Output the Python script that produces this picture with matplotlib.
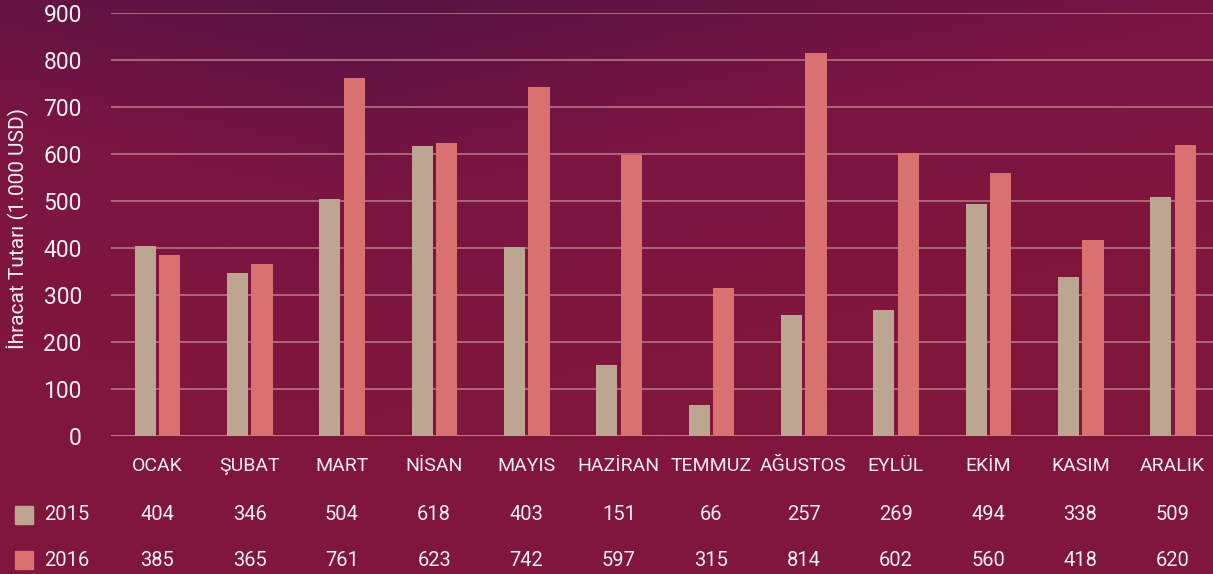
import numpy as np
import matplotlib
matplotlib.use("Agg")
import matplotlib.pyplot as plt
from matplotlib.colors import LinearSegmentedColormap

months = ["OCAK", "ŞUBAT", "MART", "NİSAN", "MAYIS", "HAZİRAN", "TEMMUZ",
          "AĞUSTOS", "EYLÜL", "EKİM", "KASIM", "ARALIK"]
v2015 = [404, 346, 504, 618, 403, 151, 66, 257, 269, 494, 338, 509]
v2016 = [385, 365, 761, 623, 742, 597, 315, 814, 602, 560, 418, 620]
series_names = ["2015", "2016"]
yticks = [0, 100, 200, 300, 400, 500, 600, 700, 800, 900]

c2015 = "#bca591"
c2016 = "#d87170"
txt = "#f4eef0"
plt.rcParams['font.family'] = ['Roboto', 'DejaVu Sans']

W, H = 1213, 574
fig = plt.figure(figsize=(W / 100, H / 100), dpi=100)

# background gradient
bg = fig.add_axes([0, 0, 1, 1])
bg.set_axis_off()
yy, xx = np.mgrid[0:1:200j, 0:1:400j]
t = np.clip((1 - yy) * 1.3 - 0.35 - np.abs(xx - 0.3) * 0.6, 0, 1)
cmap = LinearSegmentedColormap.from_list("bg", ["#80163c", "#7a1542", "#531442"])
bg.imshow(t, cmap=cmap, aspect="auto", extent=[0, 1, 0, 1], origin="upper", vmin=0, vmax=1)
bg.set_xlim(0, 1); bg.set_ylim(0, 1)

left = 111 / W
right = 1219 / W
bottom = 1 - 436 / H
top = 1 - 13 / H
ax = fig.add_axes([left, bottom, right - left, top - bottom])
ax.set_facecolor("none")
x = np.arange(len(months))
bw = 0.23
ax.bar(x - 0.13, v2015, bw, color=c2015, zorder=3)
ax.bar(x + 0.135, v2016, bw, color=c2016, zorder=3)
ax.set_xlim(-0.5, len(months) - 0.5)
ax.set_ylim(0, 900)
ax.set_yticks(yticks)
ax.set_yticklabels([str(v) for v in yticks], fontsize=16.5, color=txt)
ax.tick_params(axis="y", length=0, pad=21)
ax.set_xticks([])
for s in ax.spines.values():
    s.set_visible(False)
ax.grid(axis="y", color="#c98c98", linewidth=1.1, alpha=0.85, zorder=1)
ax.set_axisbelow(True)
ax.axhline(0, color="#c98c98", linewidth=1.1, alpha=0.85, zorder=2)

fig.text(18 / W, 1 - 228 / H, "İhracat Tutarı (1.000 USD)", rotation=90,
         ha="center", va="center", fontsize=15, color=txt)

for i, m in enumerate(months):
    xf = left + (i + 0.5) / len(months) * (right - left)
    fig.text(xf, 1 - 466 / H, m, ha="center", va="center", fontsize=14, color=txt)
    fig.text(xf, 1 - 515 / H, str(v2015[i]), ha="center", va="center", fontsize=14.5, color=txt)
    fig.text(xf, 1 - 560 / H, str(v2016[i]), ha="center", va="center", fontsize=14.5, color=txt)

for yrow, name, col in [(515, series_names[0], c2015), (560, series_names[1], c2016)]:
    fig.patches.append(plt.Rectangle((15 / W, 1 - (yrow + 9) / H), 18 / W, 18 / H,
                                     transform=fig.transFigure, color=col, figure=fig))
    fig.text(44 / W, 1 - yrow / H, name, ha="left", va="center", fontsize=14.5, color=txt)

fig.savefig("out.png", dpi=100)
